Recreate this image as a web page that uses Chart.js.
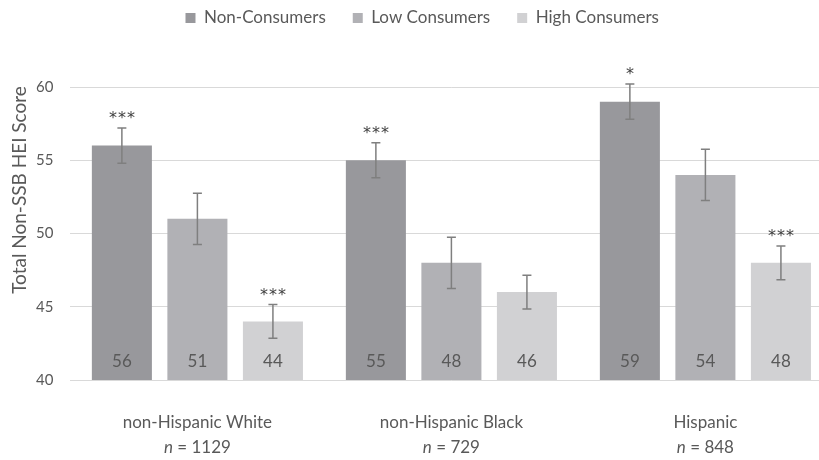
<!DOCTYPE html>
<html>
<head>
<meta charset="utf-8">
<script src="https://cdn.jsdelivr.net/npm/chart.js@4.4.1/dist/chart.umd.min.js"></script>
<style>
  html, body { margin: 0; padding: 0; background: #ffffff; overflow: hidden; }
  #wrap { position: relative; width: 836px; height: 460px; }
</style>
</head>
<body>
<div id="wrap"><canvas id="chart"></canvas></div>
<script>
// Ethnic groups on the x axis and their sample sizes
const groups = ['non-Hispanic White', 'non-Hispanic Black', 'Hispanic'];
const sampleSizes = ['1129', '729', '848'];

// Mean total non-SSB HEI score per consumer group
const seriesNames = ['Non-Consumers', 'Low Consumers', 'High Consumers'];
const nonConsumers = [56, 55, 59];
const lowConsumers = [51, 48, 54];
const highConsumers = [44, 46, 48];

// Half-width of the error bars
const nonConsumersErr = [1.2, 1.2, 1.2];
const lowConsumersErr = [1.75, 1.75, 1.75];
const highConsumersErr = [1.15, 1.15, 1.15];

// Significance markers
const nonConsumersSig = ['***', '***', '*'];
const lowConsumersSig = ['', '', ''];
const highConsumersSig = ['***', '', '***'];

// Y axis ticks
const yTicks = [40, 45, 50, 55, 60];

const FONT = 'Lato';
const TEXT = '#595959';

// Error bars, significance stars and in-bar value labels
const barExtras = {
  id: 'barExtras',
  afterDatasetsDraw(chart) {
    const ctx = chart.ctx;
    const y = chart.scales.y;
    chart.data.datasets.forEach((ds, di) => {
      const meta = chart.getDatasetMeta(di);
      meta.data.forEach((bar, j) => {
        const v = ds.data[j];
        const e = ds.errors[j];
        const yTop = y.getPixelForValue(v + e);
        const yBot = y.getPixelForValue(v - e);
        ctx.save();
        ctx.strokeStyle = '#7f7f7f';
        ctx.lineWidth = 1.5;
        ctx.beginPath();
        ctx.moveTo(bar.x, yTop); ctx.lineTo(bar.x, yBot);
        ctx.moveTo(bar.x - 4.5, yTop); ctx.lineTo(bar.x + 4.5, yTop);
        ctx.moveTo(bar.x - 4.5, yBot); ctx.lineTo(bar.x + 4.5, yBot);
        ctx.stroke();

        // value label at the foot of the bar
        ctx.fillStyle = TEXT;
        ctx.font = '17px ' + FONT;
        ctx.textAlign = 'center';
        ctx.textBaseline = 'middle';
        ctx.fillText(String(v), bar.x, y.getPixelForValue(y.min) - 18);

        // significance stars above the error bar, one glyph at a time
        const s = ds.sig[j];
        if (s) {
          ctx.fillStyle = '#404040';
          ctx.font = '16px "DejaVu Sans"';
          ctx.textBaseline = 'alphabetic';
          const n = s.length;
          for (let k = 0; k < n; k++) {
            ctx.fillText(s[k], bar.x + (k - (n - 1) / 2) * 9, yTop - 5);
          }
        }
        ctx.restore();
      });
    });
  }
};

// Category labels with sample size under each group, rotated y-axis title
const axisText = {
  id: 'axisText',
  afterDraw(chart) {
    const ctx = chart.ctx;
    const x = chart.scales.x;
    ctx.save();
    ctx.fillStyle = TEXT;
    ctx.textBaseline = 'middle';
    groups.forEach((g, i) => {
      const cx = x.getPixelForValue(i);
      ctx.font = '17px ' + FONT;
      ctx.textAlign = 'center';
      ctx.fillText(g, cx, 423);

      const rest = ' = ' + sampleSizes[i];
      ctx.font = 'italic 17px ' + FONT;
      const wN = ctx.measureText('n').width;
      ctx.font = '17px ' + FONT;
      const wR = ctx.measureText(rest).width;
      const start = cx - (wN + wR) / 2;
      ctx.textAlign = 'left';
      ctx.font = 'italic 17px ' + FONT;
      ctx.fillText('n', start, 448);
      ctx.font = '17px ' + FONT;
      ctx.fillText(rest, start + wN, 448);
    });

    ctx.translate(20, 190);
    ctx.rotate(-Math.PI / 2);
    ctx.textAlign = 'center';
    ctx.font = '19px ' + FONT;
    ctx.fillText('Total Non-SSB HEI Score', 0, 0);
    ctx.restore();
  }
};

// Reserve room between the legend row and the plot
const legendSpace = {
  id: 'legendSpace',
  beforeLayout(chart) {
    const lg = chart.legend;
    if (lg && !lg._spaced) {
      const fit = lg.fit;
      lg.fit = function () { fit.call(this); this.height = 104.5; };
      lg._spaced = true;
    }
  }
};

new Chart(document.getElementById('chart'), {
  type: 'bar',
  data: {
    labels: groups,
    datasets: [
      { label: seriesNames[0], data: nonConsumers, errors: nonConsumersErr, sig: nonConsumersSig, backgroundColor: '#98989c' },
      { label: seriesNames[1], data: lowConsumers, errors: lowConsumersErr, sig: lowConsumersSig, backgroundColor: '#b1b1b5' },
      { label: seriesNames[2], data: highConsumers, errors: highConsumersErr, sig: highConsumersSig, backgroundColor: '#d1d1d3' }
    ]
  },
  options: {
    responsive: true,
    maintainAspectRatio: false,
    animation: false,
    datasets: { bar: { categoryPercentage: 0.892, barPercentage: 0.795 } },
    layout: { padding: { top: -17.5, left: 12, right: 3.6, bottom: 80 } },
    scales: {
      x: { display: false },
      y: {
        min: 40,
        max: 60,
        afterBuildTicks(s) { s.ticks = yTicks.map(v => ({ value: v })); },
        afterFit(s) { s.width = 58.4; },
        border: { display: false },
        grid: { color: '#d9d9d9', lineWidth: 1, drawTicks: false },
        ticks: { color: TEXT, font: { family: FONT, size: 15 }, padding: 17 }
      }
    },
    plugins: {
      legend: {
        position: 'top',
        labels: {
          color: TEXT,
          font: { family: FONT, size: 17 },
          boxWidth: 10,
          boxHeight: 10,
          padding: 27
        }
      },
      tooltip: { enabled: false }
    }
  },
  plugins: [legendSpace, barExtras, axisText]
});
</script>
</body>
</html>
